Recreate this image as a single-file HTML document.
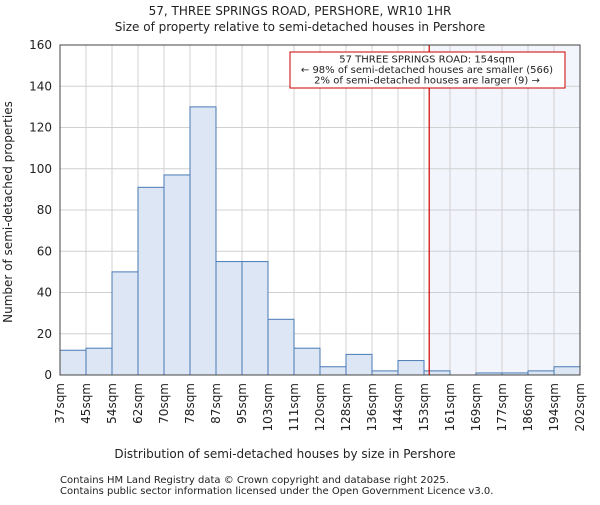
<!DOCTYPE html>
<html><head><meta charset="utf-8"><style>body{margin:0;background:#fff}svg text{font-family:"DejaVu Sans","Liberation Sans",sans-serif;fill:#222}</style></head>
<body>
<svg id="c" width="600" height="500">
<text x="300" y="15" font-size="12" text-anchor="middle">57, THREE SPRINGS ROAD, PERSHORE, WR10 1HR</text>
<text x="300" y="31" font-size="12" text-anchor="middle">Size of property relative to semi-detached houses in Pershore</text>
<g id="g"></g>
<text x="285" y="458" font-size="12" text-anchor="middle">Distribution of semi-detached houses by size in Pershore</text>
<text transform="translate(12,212) rotate(-90)" font-size="12" text-anchor="middle">Number of semi-detached properties</text>
<text x="60" y="483" font-size="10" fill="#333">Contains HM Land Registry data © Crown copyright and database right 2025.</text>
<text x="60" y="494" font-size="10" fill="#333">Contains public sector information licensed under the Open Government Licence v3.0.</text>
</svg>
<script>
const categories=["37sqm","45sqm","54sqm","62sqm","70sqm","78sqm","87sqm","95sqm","103sqm","111sqm","120sqm","128sqm","136sqm","144sqm","153sqm","161sqm","169sqm","177sqm","186sqm","194sqm","202sqm"];
const counts=[12,13,50,91,97,130,55,55,27,13,4,10,2,7,2,0,1,1,2,4];
const yTicks=[0,20,40,60,80,100,120,140,160];
const markerBin=14.2;
const NS="http://www.w3.org/2000/svg";
const g=document.getElementById('g');
const L=60,R=580,T=45,B=375,yMax=160,n=counts.length;
const x=i=>L+(R-L)*i/n, y=v=>B-(B-T)*v/yMax;
function el(t,a){const e=document.createElementNS(NS,t);for(const k in a)e.setAttribute(k,a[k]);g.appendChild(e);return e;}
let e;
e=el('rect',{x:x(markerBin),y:T,width:R-x(markerBin),height:B-T,fill:'#f3f5fd'});


yTicks.forEach(v=>{
 e=el('line',{x1:L,x2:R,y1:y(v),y2:y(v),stroke:'#d0d0d0'});
 
 
 e=el('text',{x:L-8,y:y(v)+4,'font-size':12,'text-anchor':'end'});e.textContent=v;
 
 
});
categories.forEach((c,i)=>{
 e=el('line',{x1:x(i),x2:x(i),y1:T,y2:B,stroke:'#d0d0d0'});
 
 
 e=el('text',{transform:`translate(${x(i)+4},${B+8}) rotate(-90)`,'font-size':12,'text-anchor':'end'});e.textContent=c;
 
 
});
counts.forEach((v,i)=>{
 if(v<=0)return;
 e=el('rect',{x:x(i),y:y(v),width:x(i+1)-x(i),height:B-y(v),fill:'#dce6f4',stroke:'#4a7ab5','stroke-width':1});
 
 
});
e=el('line',{x1:x(markerBin),x2:x(markerBin),y1:T,y2:B,stroke:'#c00','stroke-width':1.2});


e=el('rect',{x:L,y:T,width:R-L,height:B-T,fill:'none',stroke:'#444'});


e=el('rect',{x:290,y:52,width:275,height:36,fill:'#fff',stroke:'#c00'});


[["57 THREE SPRINGS ROAD: 154sqm",62.5],["← 98% of semi-detached houses are smaller (566)",73],["2% of semi-detached houses are larger (9) →",83.5]].forEach(([t,yy])=>{
 e=el('text',{x:427,y:yy,'font-size':10,'text-anchor':'middle'});e.textContent=t;
 
 
});
</script>
</body></html>
